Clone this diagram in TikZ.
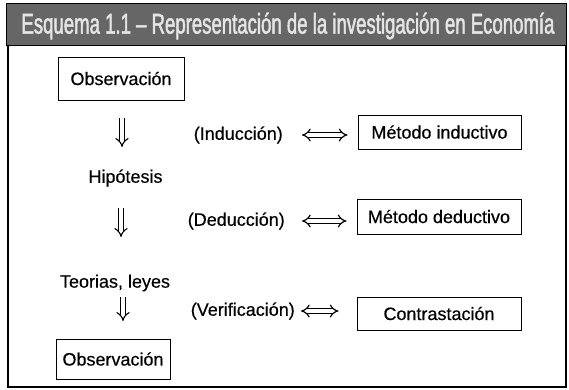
\documentclass[tikz,border=0pt]{standalone}
\usepackage{fontspec}
\setmainfont{Liberation Sans}
\newfontfamily\bodyfont[FakeBold=0.4]{Liberation Sans}
\newfontfamily\titlefont[FakeStretch=0.62,FakeBold=1.5]{Liberation Sans}
\usetikzlibrary{arrows.meta}
\tikzset{
  box/.style={draw, line width=1pt, inner sep=0pt, font=\bodyfont\fontsize{18}{20}\selectfont},
  lbl/.style={inner sep=0pt, font=\bodyfont\fontsize{18}{20}\selectfont},
  vdbl/.style={double, double distance=3.5pt, line width=1.1pt, -{Implies[length=5pt]}},
  hdbl/.style={double, double distance=3.2pt, line width=1.2pt, {Implies[length=6pt]}-{Implies[length=6pt]}},
}
\begin{document}
\begin{tikzpicture}[x=1pt,y=-1pt]
\useasboundingbox (0,0) rectangle (569,389);
% frame
\draw[line width=1.3pt] (8,44) -- (8,387) -- (566,387) -- (566,44);
% title bar
\node[draw=black, line width=1.2pt, fill=black!60, minimum width=560pt, minimum height=42pt, anchor=north west, inner sep=0pt] (title) at (6,3) {};
\node[text=black!10, inner sep=0pt] (ttext) at (288,26) {\resizebox{533pt}{21pt}{\titlefont Esquema 1.1 – Representación de la investigación en Economía}};
% left column
\node[box, minimum width=126pt, minimum height=43pt] (obs1) at (121,78.5) {Observación};
\node[lbl] (hip) at (125.5,178) {Hipótesis};
\node[lbl] (teo) at (115,283) {Teorias, leyes};
\node[box, minimum width=114pt, minimum height=40pt] (obs2) at (113,359) {Observación};
% middle labels
\node[lbl, anchor=east] (ind) at (283,135) {(Inducción)};
\node[lbl, anchor=east] (ded) at (285,221) {(Deducción)};
\node[lbl, anchor=east] (ver) at (295,311) {(Verificación)};
% right boxes
\node[box, minimum width=163pt, minimum height=34pt] (mind) at (439.5,132) {Método inductivo};
\node[box, minimum width=164pt, minimum height=35pt] (mded) at (439,216.5) {Método deductivo};
\node[box, minimum width=164pt, minimum height=33pt] (con) at (439,313.5) {Contrastación};
% vertical arrows
\coordinate (v1a) at (122,118); \coordinate (v1b) at (122,147);
\coordinate (v2a) at (121,208); \coordinate (v2b) at (121,237);
\coordinate (v3a) at (123,297); \coordinate (v3b) at (123,321);
\draw[vdbl] (v1a) -- (v1b);
\draw[vdbl] (v2a) -- (v2b);
\draw[vdbl] (v3a) -- (v3b);
% horizontal arrows
\draw[hdbl] ([xshift=19pt]ind.east) -- ([xshift=-10pt,yshift=-3pt]mind.west);
\draw[hdbl] ([xshift=17pt]ded.east) -- ([xshift=-10pt,yshift=-4.5pt]mded.west);
\draw[hdbl] ([xshift=6pt]ver.east) -- ([xshift=-18pt,yshift=2.5pt]con.west);
\end{tikzpicture}
\end{document}
